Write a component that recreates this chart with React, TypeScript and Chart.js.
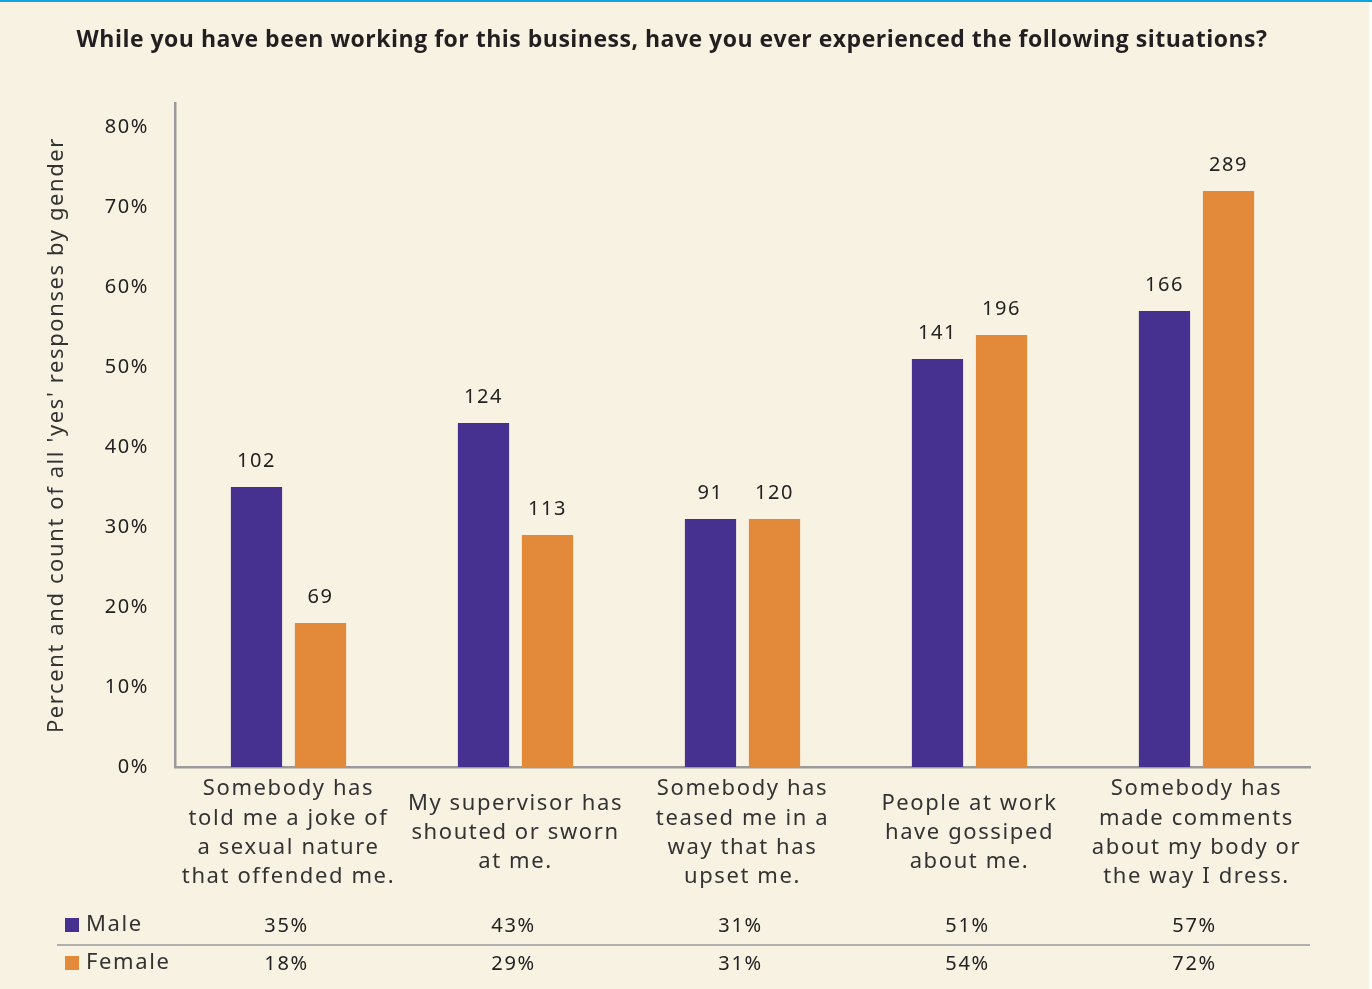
import React, { useEffect, useRef } from "react";
import { Chart, registerables } from "chart.js";

Chart.register(...registerables);

const chartTitle =
  "While you have been working for this business, have you ever experienced the following situations?";
const yAxisTitle = "Percent and count of all 'yes' responses by gender";
const categories: string[][] = [
  ["Somebody has", "told me a joke of", "a sexual nature", "that offended me."],
  ["My supervisor has", "shouted or sworn", "at me."],
  ["Somebody has", "teased me in a", "way that has", "upset me."],
  ["People at work", "have gossiped", "about me."],
  ["Somebody has", "made comments", "about my body or", "the way I dress."],
];
const seriesNames = ["Male", "Female"];
const malePercent = [35, 43, 31, 51, 57];
const femalePercent = [18, 29, 31, 54, 72];
const maleCount = [102, 124, 91, 141, 166];
const femaleCount = [69, 113, 120, 196, 289];

const PURPLE = "#463190";
const ORANGE = "#e2893a";
const CREAM = "#f8f2e3";
const AXIS = "#9a9a9a";
const FONT = "'Noto Sans', 'Open Sans', sans-serif";
const SPACING = "1.6px";

const overlayPlugin = {
  id: "overlay",
  beforeLayout(chart: any) {
    (chart.ctx as any).letterSpacing = SPACING;
  },
  beforeDraw(chart: any) {
    const ctx = chart.ctx;
    ctx.save();
    ctx.fillStyle = "#ffffff";
    ctx.fillRect(0, 0, chart.width, chart.height);
    ctx.fillStyle = CREAM;
    ctx.fillRect(0, 0, 1369, chart.height);
    ctx.fillStyle = "#0fa3df";
    ctx.fillRect(0, 0, chart.width, 2);
    ctx.restore();
    (ctx as any).letterSpacing = SPACING;
  },
  afterDatasetsDraw(chart: any) {
    const ctx = chart.ctx;
    ctx.save();
    // title
    (ctx as any).letterSpacing = "0.5px";
    ctx.fillStyle = "#231f20";
    ctx.font = `bold 23px 'Open Sans', sans-serif`;
    ctx.textAlign = "center";
    ctx.textBaseline = "middle";
    ctx.fillText(chartTitle, 672, 40);

    (ctx as any).letterSpacing = SPACING;
    // count labels
    const counts = [maleCount, femaleCount];
    ctx.font = `20px ${FONT}`;
    ctx.fillStyle = "#222";
    chart.data.datasets.forEach((_: any, di: number) => {
      const meta = chart.getDatasetMeta(di);
      meta.data.forEach((bar: any, i: number) => {
        ctx.fillText(String(counts[di][i]), bar.x, bar.y - 26);
      });
    });

    // data table
    const xScale = chart.scales.x;
    const rows = [malePercent, femalePercent];
    const colors = [PURPLE, ORANGE];
    const rowY = [925, 963];
    rows.forEach((vals, r) => {
      ctx.fillStyle = colors[r];
      ctx.fillRect(65, rowY[r] - 7, 14, 14);
      ctx.fillStyle = "#333";
      ctx.font = `22px ${FONT}`;
      ctx.textAlign = "left";
      ctx.fillText(seriesNames[r], 86, rowY[r]);
      ctx.font = `20px ${FONT}`;
      ctx.textAlign = "center";
      ctx.fillStyle = "#222";
      vals.forEach((v, i) => {
        ctx.fillText(`${v}%`, xScale.getPixelForValue(i) - 2, rowY[r] + 1);
      });
    });
    ctx.strokeStyle = AXIS;
    ctx.lineWidth = 1.5;
    ctx.beginPath();
    ctx.moveTo(57, 945);
    ctx.lineTo(chart.chartArea.right, 945);
    ctx.stroke();
    ctx.restore();
  },
};

export default function App() {
  const ref = useRef<HTMLCanvasElement | null>(null);
  useEffect(() => {
    document.body.style.margin = "0";
    if (!ref.current) return;
    const chart = new Chart(ref.current, {
      type: "bar",
      data: {
        labels: categories as any,
        datasets: [
          {
            label: seriesNames[0],
            data: malePercent,
            backgroundColor: PURPLE,
            categoryPercentage: 0.564,
            barPercentage: 0.8,
          },
          {
            label: seriesNames[1],
            data: femalePercent,
            backgroundColor: ORANGE,
            categoryPercentage: 0.564,
            barPercentage: 0.8,
          },
        ],
      },
      options: {
        animation: false,
        responsive: false,
        devicePixelRatio: 1,
        layout: { padding: { top: 103, right: 62, left: 0, bottom: 0 } },
        plugins: {
          legend: { display: false },
          tooltip: { enabled: false },
          title: { display: false },
        },
        scales: {
          x: {
            offset: true,
            grid: { display: false, drawTicks: false },
            border: { display: true, color: AXIS, width: 2.5 },
            ticks: {
              font: { family: FONT, size: 22, lineHeight: 1.33 },
              color: "#333",
              padding: 22,
              maxRotation: 0,
              autoSkip: false,
              crossAlign: "center",
            },
            afterFit: (s: any) => {
              s.height = 222;
            },
          },
          y: {
            min: 0,
            max: 83,
            grid: { display: false, drawTicks: false },
            border: { display: true, color: AXIS, width: 2.5 },
            ticks: {
              stepSize: 10,
              includeBounds: false,
              padding: 26,
              color: "#222",
              font: { family: FONT, size: 20 },
              callback: (v: any) => `${v}%`,
            },
            title: {
              display: true,
              text: yAxisTitle,
              color: "#333",
              font: { family: FONT, size: 22 },
              padding: { top: 44, bottom: 0 },
            },
            afterFit: (s: any) => {
              s.width = 175;
            },
          },
        },
      } as any,
      plugins: [overlayPlugin],
    });
    return () => chart.destroy();
  }, []);
  return (
    <div style={{ width: 1372, height: 989 }}>
      <canvas ref={ref} width={1372} height={989} />
    </div>
  );
}
